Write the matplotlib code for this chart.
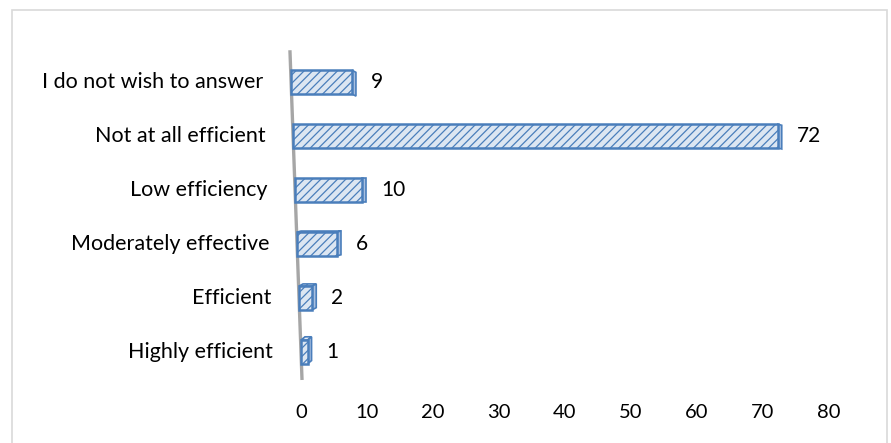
import matplotlib
matplotlib.use("Agg")
import matplotlib.pyplot as plt
from matplotlib.patches import Polygon, Rectangle
import numpy as np

categories = ["Highly efficient", "Efficient", "Moderately effective",
              "Low efficiency", "Not at all efficient", "I do not wish to answer"]
values = [1, 2, 6, 10, 72, 9]
xticks = [0, 10, 20, 30, 40, 50, 60, 70, 80]

edge = "#4a7ebb"
front = "#dce6f2"
side = "#a9c0e0"
top = "#e6eef8"

plt.rcParams["font.family"] = ["Lato", "DejaVu Sans"]
plt.rcParams["hatch.linewidth"] = 0.9
plt.rcParams["hatch.color"] = edge

W, H = 891, 443
fig = plt.figure(figsize=(W / 100, H / 100), dpi=100)
ax = fig.add_axes([301 / W, 1 - 387 / H, 528 / W, 340 / H])
ax.set_xlim(0, 80)
ax.set_ylim(-0.65, 5.65)

# slanted floor: each row starts a bit further left going up
skew = -0.3
bar_h = 0.44
dx = 0.6

def row_left(y):
    return skew * y

# axis wall edge
ya = np.array([-0.52, 5.59])
ax.plot(row_left(ya), ya, color="#a6a6a6", lw=2.4, solid_capstyle="butt",
        clip_on=False, zorder=1)

for i, (cat, v) in enumerate(zip(categories, values)):
    x0 = row_left(i)
    w = v * (1 + 0.005 * i)
    y0, y1 = i - bar_h / 2, i + bar_h / 2
    dy = 0.02 * (3 - i)
    # top face
    if dy > 0:
        ax.add_patch(Polygon([(x0, y1), (x0 + dx, y1 + dy), (x0 + w + dx, y1 + dy), (x0 + w, y1)],
                             closed=True, facecolor=top, edgecolor=edge, lw=1.2,
                             hatch="////", clip_on=False, zorder=2))
    # right side face
    ax.add_patch(Polygon([(x0 + w, y0), (x0 + w + dx, y0 + dy), (x0 + w + dx, y1 + dy), (x0 + w, y1)],
                         closed=True, facecolor=side, edgecolor=edge, lw=1.2,
                         clip_on=False, zorder=2))
    # front face
    ax.add_patch(Rectangle((x0, y0), w, bar_h, facecolor=front, edgecolor=edge,
                           lw=1.8, hatch="////", clip_on=False, zorder=3))
    ax.text(x0 + w + dx + 2.3, i, str(v), ha="left", va="center",
            fontsize=15, color="#000000")
    ax.text(x0 - 4.2, i, cat, ha="right", va="center",
            fontsize=15.5, color="#000000")

ax.set_xticks(xticks)
ax.set_xticklabels([str(t) for t in xticks], fontsize=14.5)
ax.tick_params(axis="x", length=0, pad=12)
ax.set_yticks([])
for s in ax.spines.values():
    s.set_visible(False)
ax.patch.set_visible(False)

fig.patches.append(Rectangle((12 / W, -0.01), 875 / W, 1 - 10 / H + 0.01,
                             transform=fig.transFigure, fill=False,
                             edgecolor="#d9d9d9", lw=1.2))

fig.savefig("out.png", dpi=100)
